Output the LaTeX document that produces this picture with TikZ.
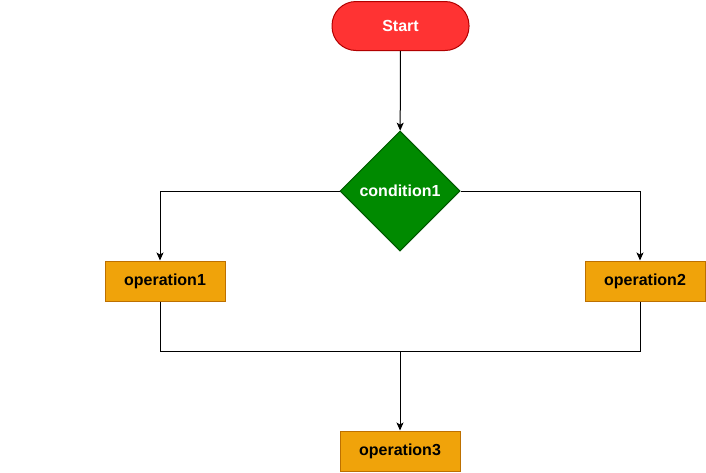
\documentclass[tikz,border=0pt]{standalone}
\usepackage{fontspec}
\setmainfont{Liberation Sans}
\usetikzlibrary{arrows.meta, positioning, shapes.geometric}
\definecolor{cred}{HTML}{FF3333}
\definecolor{credline}{HTML}{B20000}
\definecolor{cgreen}{HTML}{008A00}
\definecolor{cgreenline}{HTML}{005700}
\definecolor{corange}{HTML}{F0A30A}
\definecolor{corangeline}{HTML}{BD7000}
\tikzset{
  every picture/.style={line width=1pt},
  every node/.style={font=\fontsize{16}{19}\selectfont\bfseries},
  terminal/.style={draw=credline, fill=cred, text=white, rounded corners=24pt, minimum width=137pt, minimum height=49pt},
  decision/.style={diamond, draw=cgreenline, fill=cgreen, text=white, minimum width=120pt, minimum height=120pt, inner sep=0pt},
  opbox/.style={draw=corangeline, fill=corange, text=black, minimum width=120pt, minimum height=40pt},
  arrow/.style={-{Stealth[length=8pt, width=7pt, inset=2pt]}, draw=black},
}
\begin{document}
\begin{tikzpicture}[x=1pt, y=-1pt]
  \useasboundingbox (0,0) rectangle (706,472);
  \node[terminal] (start) at (400.5,26) {Start};
  \node[decision] (cond) at (400,191) {condition1};
  \node[opbox] (op1) at (165,281) {operation1};
  \node[opbox] (op2) at (645,281) {operation2};
  \node[opbox] (op3) at (400,451) {operation3};
  \coordinate (j1) at (160,351);
  \coordinate (j2) at (640,351);
  \coordinate (jm) at (400,351);
  \draw[arrow] (start) -- (cond);
  \draw[arrow] (cond.west) -| (op1.north -| j1);
  \draw[arrow] (cond.east) -| (op2.north -| j2);
  \draw (op1.south -| j1) -- (j1) -- (j2) -- (op2.south -| j2);
  \draw[arrow] (jm) -- (op3);
\end{tikzpicture}
\end{document}
